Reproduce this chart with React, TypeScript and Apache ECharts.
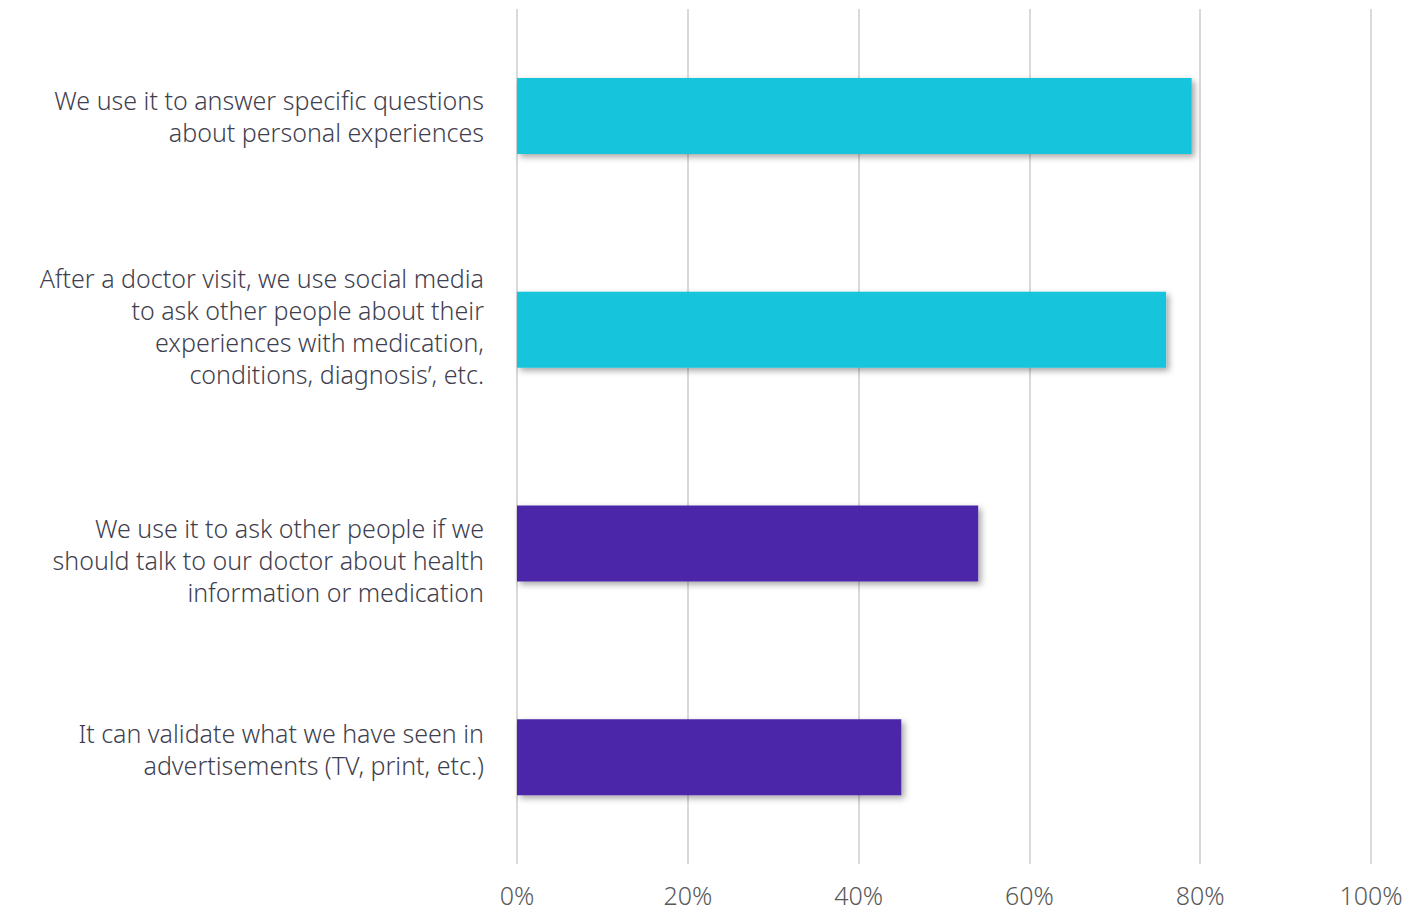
import React, { useEffect, useRef } from "react";
import * as echarts from "echarts";

const categories = [
  "We use it to answer specific questions\nabout personal experiences",
  "After a doctor visit, we use social media\nto ask other people about their\nexperiences with medication,\nconditions, diagnosis’, etc.",
  "We use it to ask other people if we\nshould talk to our doctor about health\ninformation or medication",
  "It can validate what we have seen in\nadvertisements (TV, print, etc.)",
];
const values = [0.79, 0.76, 0.54, 0.45];
const barColors = ["#17C4DC", "#17C4DC", "#4B28A8", "#4B28A8"];
const tickLabels = ["0%", "20%", "40%", "60%", "80%", "100%"];
// spacer lines (rich style names) to nudge labels like the reference
const labelPrefix = ["", "", "{p34| }\n", ""];
const labelSuffix = ["", "\n{p8| }", "", "\n{p16| }"];

export default function App() {
  const ref = useRef<HTMLDivElement>(null);
  useEffect(() => {
    if (!ref.current) return;
    const chart = echarts.init(ref.current, undefined, { renderer: "svg" });
    chart.setOption({
      animation: false,
      grid: { left: 517, right: 39, top: 9, bottom: 47, containLabel: false },
      xAxis: {
        type: "value",
        min: 0,
        max: 1,
        interval: 0.2,
        axisLine: { show: false },
        axisTick: { show: false },
        splitLine: { lineStyle: { color: "#D9D9D9", width: 2 } },
        axisLabel: {
          margin: 18,
          fontFamily: "Noto Sans",
          fontWeight: 300,
          fontSize: 25,
          color: "#595959",
          formatter: (v: number) => tickLabels[Math.round(v * 5)],
        },
      },
      yAxis: {
        type: "category",
        inverse: true,
        data: categories,
        axisLine: { show: false },
        axisTick: { show: false },
        axisLabel: {
          margin: 33,
          fontFamily: "Noto Sans",
          fontWeight: 300,
          fontSize: 25,
          lineHeight: 32,
          color: "#3F3F4F",
          align: "right",
          formatter: (v: string, i: number) => labelPrefix[i] + v + labelSuffix[i],
          rich: {
            p34: { lineHeight: 34, fontSize: 10 },
            p8: { lineHeight: 8, fontSize: 6 },
            p16: { lineHeight: 16, fontSize: 10 },
          },
        },
      },
      series: [
        {
          type: "bar",
          barWidth: 76,
          data: values.map((v, i) => ({
            value: v,
            itemStyle: {
              color: barColors[i],
              shadowColor: "rgba(0,0,0,0.35)",
              shadowBlur: 6,
              shadowOffsetX: 3,
              shadowOffsetY: 3,
            },
          })),
        },
      ],
    });
    return () => chart.dispose();
  }, []);
  return (
    <div
      ref={ref}
      style={{ position: "absolute", left: 0, top: 0, width: 1410, height: 911 }}
    />
  );
}
